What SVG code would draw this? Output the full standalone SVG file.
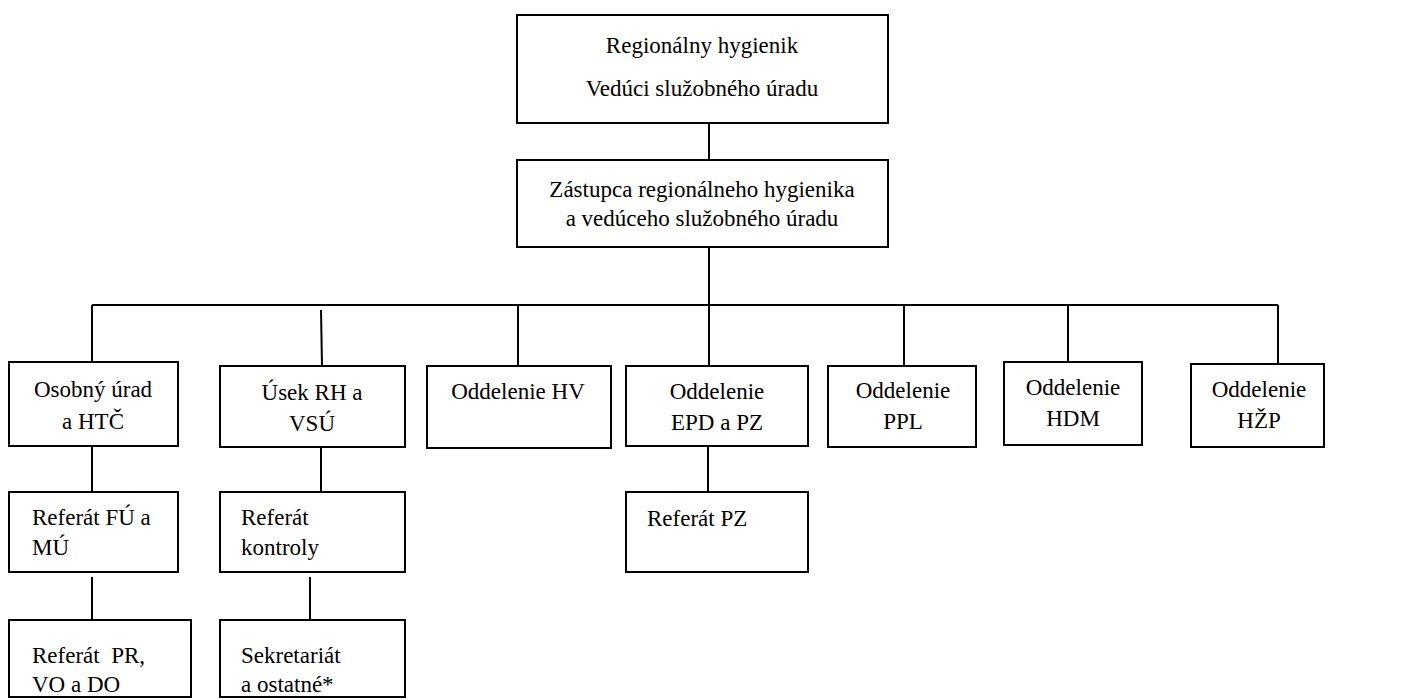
<svg xmlns="http://www.w3.org/2000/svg" width="1413" height="700" viewBox="0 0 1413 700">
<style>
.box{fill:#fff;stroke:#000;stroke-width:2}
.ln{stroke:#000;stroke-width:2;fill:none}
.c{text-anchor:middle}
</style>
<rect width="1413" height="700" fill="#fff"/>
<g id="connectors">
<line class="ln" x1="709" y1="123" x2="709" y2="160"/>
<line class="ln" x1="709" y1="247" x2="709" y2="366"/>
<line class="ln" x1="92" y1="305" x2="1278" y2="305"/>
<line class="ln" x1="92" y1="305" x2="92" y2="362"/>
<line class="ln" x1="321" y1="310" x2="322" y2="366"/>
<line class="ln" x1="518" y1="305" x2="518" y2="366"/>
<line class="ln" x1="904" y1="305" x2="904" y2="366"/>
<line class="ln" x1="1068" y1="305" x2="1068" y2="362"/>
<line class="ln" x1="1278" y1="305" x2="1278" y2="364"/>
<line class="ln" x1="92" y1="446" x2="92" y2="492"/>
<line class="ln" x1="321" y1="447" x2="321" y2="492"/>
<line class="ln" x1="708" y1="446" x2="708" y2="492"/>
<line class="ln" x1="92" y1="577" x2="92" y2="620"/>
<line class="ln" x1="310" y1="577" x2="310" y2="620"/>
</g>
<g font-family="'Liberation Serif', 'DejaVu Serif', 'Times New Roman', serif" font-size="23" fill="#000">
<g id="n-rh">
<rect class="box" x="517" y="15" width="371" height="108"/>
<text class="c" x="702" y="53">Regionálny hygienik</text>
<text class="c" x="702" y="96">Vedúci služobného úradu</text>
</g>
<g id="n-zast">
<rect class="box" x="517" y="160" width="371" height="87"/>
<text class="c" x="702" y="197">Zástupca regionálneho hygienika</text>
<text class="c" x="702" y="226">a vedúceho služobného úradu</text>
</g>
<g id="n-osobny">
<rect class="box" x="9" y="362" width="169" height="84"/>
<text class="c" x="93" y="397">Osobný úrad</text>
<text class="c" x="93" y="429">a HTČ</text>
</g>
<g id="n-usek">
<rect class="box" x="220" y="366" width="185" height="81"/>
<text class="c" x="312" y="400">Úsek RH a</text>
<text class="c" x="312" y="431">VSÚ</text>
</g>
<g id="n-hv">
<rect class="box" x="427" y="366" width="184" height="82"/>
<text class="c" x="518" y="399">Oddelenie HV</text>
</g>
<g id="n-epd">
<rect class="box" x="626" y="366" width="182" height="80"/>
<text class="c" x="717" y="399">Oddelenie</text>
<text class="c" x="717" y="430">EPD a PZ</text>
</g>
<g id="n-ppl">
<rect class="box" x="828" y="366" width="148" height="81"/>
<text class="c" x="903" y="398">Oddelenie</text>
<text class="c" x="903" y="429">PPL</text>
</g>
<g id="n-hdm">
<rect class="box" x="1004" y="362" width="138" height="83"/>
<text class="c" x="1073" y="395">Oddelenie</text>
<text class="c" x="1073" y="426">HDM</text>
</g>
<g id="n-hzp">
<rect class="box" x="1191" y="364" width="133" height="83"/>
<text class="c" x="1259" y="397">Oddelenie</text>
<text class="c" x="1259" y="428">HŽP</text>
</g>
<g id="n-fu">
<rect class="box" x="9" y="492" width="169" height="80"/>
<text x="32" y="525">Referát FÚ a</text>
<text x="32" y="555">MÚ</text>
</g>
<g id="n-kontroly">
<rect class="box" x="220" y="492" width="185" height="80"/>
<text x="241" y="525">Referát</text>
<text x="241" y="555">kontroly</text>
</g>
<g id="n-pz">
<rect class="box" x="626" y="492" width="182" height="80"/>
<text x="647" y="526">Referát PZ</text>
</g>
<g id="n-pr">
<rect class="box" x="9" y="620" width="182" height="77"/>
<text x="32" y="663" xml:space="preserve">Referát  PR,</text>
<text x="32" y="692">VO a DO</text>
</g>
<g id="n-sekr">
<rect class="box" x="220" y="620" width="185" height="77"/>
<text x="241" y="663">Sekretariát</text>
<text x="241" y="692">a ostatné*</text>
</g>
</g>
</svg>
